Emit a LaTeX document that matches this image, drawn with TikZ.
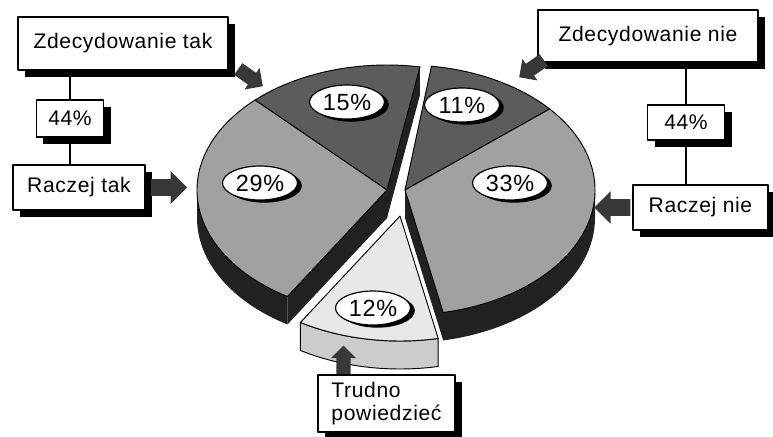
\documentclass[tikz,border=0pt]{standalone}
\usepackage{fontspec}
\setmainfont{Liberation Sans}[LetterSpace=3]
\usetikzlibrary{positioning,shapes.geometric,shapes.arrows,shadows}
\definecolor{sidec}{gray}{0.13}
\definecolor{darkc}{gray}{0.36}
\definecolor{midc}{gray}{0.63}
\definecolor{lightc}{gray}{0.91}
\definecolor{lightside}{gray}{0.8}
\definecolor{arrowc}{gray}{0.22}
\begin{document}
\begin{tikzpicture}[x=0.03cm, y=0.03cm, line join=round, line width=0.8pt, font=\fontsize{18}{19}\selectfont,
	box/.style={draw, line width=1pt, fill=white, inner sep=0pt, drop shadow={shadow xshift=0.21cm, shadow yshift=-0.21cm, fill=black, opacity=1}},
	pct/.style={ellipse, draw, line width=1pt, fill=white, inner sep=0pt, minimum width=2.25cm, minimum height=1.02cm, font=\fontsize{20}{21}\selectfont, drop shadow={shadow xshift=0.13cm, shadow yshift=-0.08cm, fill=black, opacity=1}},
	blockarr/.style={single arrow, fill=arrowc, inner sep=0.24cm, single arrow head extend=0.24cm, minimum height=1.08cm}]
	\useasboundingbox (0,0) rectangle (773,-436);
	\fill[sidec] (387,-190) ++(180:190 and 125) arc[start angle=180, end angle=238.4, x radius=190, y radius=125] -- ++(0,-28) arc[start angle=238.4, end angle=180, x radius=190, y radius=125] -- cycle;
	\fill[sidec] (387,-190) -- ++(238.4:190 and 125) -- ++(0,-28) -- (387,-218) -- cycle;
	\fill[sidec] (387,-190) -- ++(80:190 and 125) -- ++(0,-28) -- (387,-218) -- cycle;
	\filldraw[fill=darkc] (387,-190) -- ++(80:190 and 125) arc[start angle=80, end angle=134, x radius=190, y radius=125] -- cycle;
	\filldraw[fill=midc] (387,-190) -- ++(134:190 and 125) arc[start angle=134, end angle=238.4, x radius=190, y radius=125] -- cycle;
	\fill[sidec] (405,-190) ++(281.6:190 and 125) arc[start angle=281.6, end angle=360, x radius=190, y radius=125] -- ++(0,-28) arc[start angle=360, end angle=281.6, x radius=190, y radius=125] -- cycle;
	\fill[sidec] (405,-190) -- ++(281.6:190 and 125) -- ++(0,-28) -- (405,-218) -- cycle;
	\filldraw[fill=darkc] (405,-190) -- ++(40.4:190 and 125) arc[start angle=40.4, end angle=82, x radius=190, y radius=125] -- cycle;
	\filldraw[fill=midc] (405,-190) -- ++(-78.4:190 and 125) arc[start angle=-78.4, end angle=40.4, x radius=190, y radius=125] -- cycle;
	\draw[white, line width=3pt] (400,-216) -- ++(238.4:190 and 125) -- ++(0,-28) arc[start angle=238.4, end angle=281.6, x radius=190, y radius=125] -- ++(0,28) -- cycle;
	\filldraw[fill=lightside] (400,-216) ++(238.4:190 and 125) arc[start angle=238.4, end angle=281.6, x radius=190, y radius=125] -- ++(0,-28) arc[start angle=281.6, end angle=238.4, x radius=190, y radius=125] -- cycle;
	\filldraw[fill=lightc] (400,-216) -- ++(238.4:190 and 125) arc[start angle=238.4, end angle=281.6, x radius=190, y radius=125] -- cycle;
	\node[pct] (p15) at (347,-102) {15\%};
	\node[pct] (p11) at (462,-105) {11\%};
	\node[pct] (p29) at (260,-183) {29\%};
	\node[pct] (p33) at (510,-183) {33\%};
	\node[pct] (p12) at (373,-308) {12\%};
	\node[box, minimum width=6.3cm, minimum height=1.59cm] (zt) at (123,-43.5) {Zdecydowanie tak};
	\node[box, minimum width=2.01cm, minimum height=1.11cm] (pl) at (70,-118.5) {44\%};
	\node[box, minimum width=3.96cm, minimum height=1.35cm] (rt) at (79,-187.5) {Raczej tak};
	\node[box, minimum width=6.6cm, minimum height=1.56cm] (zn) at (648,-36) {Zdecydowanie nie};
	\node[box, minimum width=2.31cm, minimum height=1.05cm] (pr) at (686,-122.5) {44\%};
	\node[box, minimum width=4.05cm, minimum height=1.35cm] (rn) at (700.5,-207.5) {Raczej nie};
	\node[box, minimum width=4.11cm, minimum height=1.71cm, align=left] (tp) at (386.5,-403.5) {Trudno\\powiedzieć};
	\draw[line width=1pt] (zt.south -| pl.north) -- (pl.north) (pl.south) -- (pl.south |- rt.north);
	\draw[line width=1pt] (zn.south -| pr.north) -- (pr.north) (pr.south) -- (pr.south |- rn.north);
	\node[blockarr, right=0.15cm of rt] (art) {};
	\node[blockarr, shape border rotate=180, left=0.05cm of rn] (arn) {};
	\node[blockarr, shape border rotate=90, minimum height=0.85cm, inner sep=0.2cm, single arrow head extend=0.16cm, anchor=south] (atp) at ([xshift=0.78cm]tp.north west) {};
	\node[blockarr, rotate=-35, minimum height=0.9cm, inner sep=0.2cm, single arrow head extend=0.18cm] (azt) at ([shift={(19,-5)}]zt.south east) {};
	\node[blockarr, rotate=215, minimum height=0.9cm, inner sep=0.2cm, single arrow head extend=0.18cm] (azn) at ([shift={(-3,-4)}]zn.south west) {};
\end{tikzpicture}
\end{document}
